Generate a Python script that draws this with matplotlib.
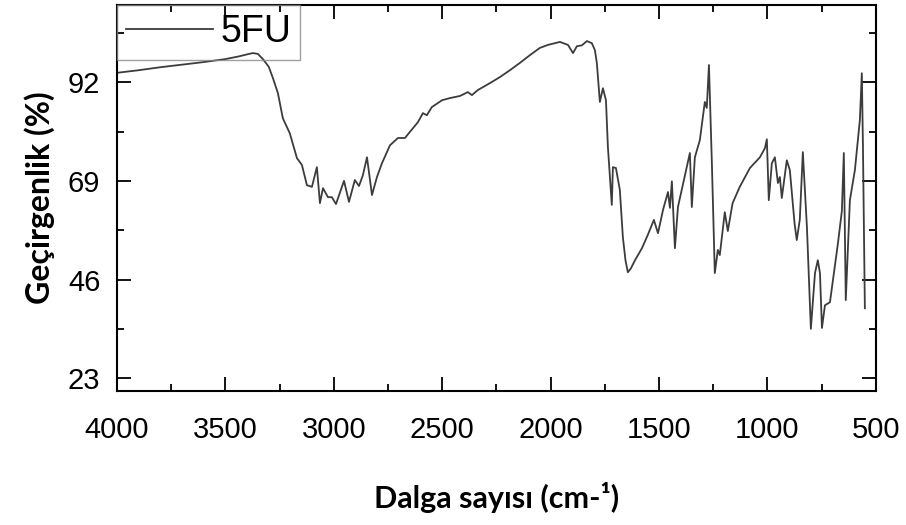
import matplotlib
matplotlib.use("Agg")
import matplotlib.pyplot as plt
from matplotlib.ticker import MultipleLocator, FixedLocator

# FTIR spectrum of 5FU
wavenumber = [4000, 3900, 3800, 3700, 3600, 3500, 3440, 3400, 3373, 3350,
              3327, 3300, 3281, 3258, 3235, 3203, 3170, 3147, 3124, 3101,
              3078, 3064, 3050, 3027, 3009, 2990, 2972, 2953, 2930, 2903,
              2884, 2866, 2847, 2824, 2801, 2778, 2741, 2704, 2672, 2635,
              2612, 2589, 2571, 2548, 2501, 2465, 2418, 2382, 2363, 2335,
              2280, 2234, 2188, 2142, 2096, 2050, 2013, 1980, 1957, 1920,
              1897, 1879, 1856, 1833, 1810, 1796, 1787, 1773, 1759, 1745,
              1736, 1718, 1713, 1699, 1681, 1667, 1655, 1644, 1630, 1611,
              1579, 1552, 1524, 1505, 1482, 1459, 1450, 1441, 1427, 1413,
              1358, 1349, 1335, 1312, 1289, 1280, 1270, 1256, 1243, 1229,
              1220, 1197, 1183, 1161, 1128, 1081, 1035, 1012, 1003, 994,
              980, 966, 952, 943, 934, 911, 897, 875, 865, 851,
              837, 818, 800, 781, 768, 758, 749, 735, 712, 675,
              657, 648, 639, 620, 597, 574, 565, 560, 551]
transmittance = [94.2, 94.8, 95.5, 96.1, 96.7, 97.4, 98.0, 98.5, 98.8, 98.6,
                 97.4, 95.6, 93.0, 89.5, 83.6, 80.1, 74.3, 72.7, 68.0, 67.6,
                 72.2, 63.8, 67.3, 65.2, 65.2, 63.6, 66.2, 69.0, 64.1, 69.2,
                 67.8, 70.3, 74.5, 65.7, 69.9, 73.1, 77.3, 79.0, 79.0, 81.3,
                 82.7, 84.8, 84.3, 86.2, 87.8, 88.3, 88.8, 89.7, 89.0, 90.2,
                 91.8, 93.2, 94.8, 96.5, 98.3, 100.0, 100.7, 101.1, 101.4, 100.7,
                 98.8, 100.4, 100.6, 101.6, 101.1, 99.5, 96.5, 87.4, 90.6, 87.8,
                 76.9, 63.4, 72.2, 72.0, 66.9, 55.9, 50.5, 47.7, 48.6, 50.5,
                 53.3, 56.4, 59.9, 56.8, 62.2, 66.4, 62.7, 68.9, 53.3, 62.9,
                 75.5, 62.9, 74.5, 78.5, 87.4, 86.0, 96.0, 72.2, 47.5, 52.9,
                 51.7, 61.7, 57.3, 63.8, 67.6, 72.0, 74.5, 76.6, 78.7, 64.5,
                 73.1, 74.5, 68.5, 69.9, 65.0, 73.8, 71.5, 59.0, 55.2, 60.0,
                 75.7, 58.0, 34.5, 47.5, 50.5, 47.5, 34.7, 40.0, 40.7, 54.5,
                 62.0, 75.5, 41.2, 64.5, 71.5, 83.2, 94.1, 77.8, 39.3]
y_ticks = [23, 46, 69, 92]
x_ticks = [4000, 3500, 3000, 2500, 2000, 1500, 1000, 500]

fig = plt.figure(figsize=(9.06, 5.25), dpi=100)
ax = fig.add_axes([0.1291, 0.2552, 0.8377, 0.7352])

ax.plot(wavenumber, transmittance, color="#3c3c3c", lw=1.3, label="5FU")

ax.set_xlim(4000, 500)
ax.set_ylim(20, 110)
ax.xaxis.set_major_locator(FixedLocator(x_ticks))
ax.xaxis.set_minor_locator(MultipleLocator(250))
ax.yaxis.set_major_locator(FixedLocator(y_ticks))
ax.yaxis.set_minor_locator(MultipleLocator(11.5))

for s in ax.spines.values():
    s.set_linewidth(1.5)
ax.tick_params(which="both", direction="in", top=True, right=True, width=1.3)
ax.tick_params(which="major", length=10)
ax.tick_params(which="minor", length=5)
ax.tick_params(axis="x", which="major", pad=18, labelsize=21)
ax.tick_params(axis="y", which="major", pad=12, labelsize=21)
for lab in ax.get_xticklabels() + ax.get_yticklabels():
    lab.set_family("Liberation Sans")

ax.set_xlabel("Dalga sayısı (cm-¹)", family=["Lato", "DejaVu Sans"],
              fontweight="bold", fontsize=22)
ax.set_ylabel("Geçirgenlik (%)", family=["Lato", "DejaVu Sans"],
              fontweight="bold", fontsize=23)
ax.xaxis.set_label_coords(0.5, -0.275)
ax.xaxis.label.set_va("center")
ax.yaxis.set_label_coords(-0.102, 0.5)
ax.yaxis.label.set_va("center")

leg = ax.legend(loc="upper left", bbox_to_anchor=(0, 1), borderaxespad=0,
                fancybox=False, handlelength=2.3, handletextpad=0.2,
                borderpad=0.25, prop={"family": "Liberation Sans", "size": 27})
leg.get_frame().set_edgecolor("#888888")
leg.get_frame().set_facecolor("none")
leg.get_frame().set_linewidth(1.0)

fig.savefig("out.png", dpi=100)
